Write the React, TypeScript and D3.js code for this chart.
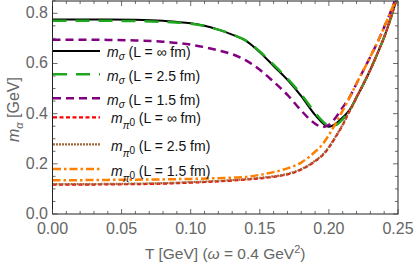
import * as d3 from "d3";

// temperature grids (GeV)
const tSigma = [0, 0.02, 0.04, 0.06, 0.08, 0.1, 0.11, 0.12, 0.13, 0.14, 0.15, 0.16, 0.17, 0.18, 0.19, 0.195, 0.2, 0.205, 0.21, 0.215, 0.22, 0.225, 0.23, 0.235, 0.24, 0.245, 0.25];
const tPion = [0, 0.02, 0.04, 0.06, 0.08, 0.1, 0.12, 0.14, 0.15, 0.16, 0.17, 0.18, 0.19, 0.195, 0.2, 0.205, 0.21, 0.215, 0.22, 0.225, 0.23, 0.235, 0.24, 0.245, 0.25];

// masses (GeV)
const sigmaInf = [0.775, 0.775, 0.775, 0.774, 0.77, 0.76, 0.75, 0.735, 0.715, 0.69, 0.645, 0.59, 0.535, 0.47, 0.395, 0.365, 0.348, 0.36, 0.385, 0.415, 0.465, 0.518, 0.575, 0.638, 0.705, 0.785, 0.875];
const sigma25 = [0.77, 0.77, 0.77, 0.769, 0.766, 0.758, 0.749, 0.735, 0.716, 0.691, 0.648, 0.595, 0.54, 0.477, 0.404, 0.372, 0.352, 0.355, 0.378, 0.412, 0.465, 0.518, 0.575, 0.638, 0.705, 0.785, 0.875];
const sigma15 = [0.695, 0.695, 0.694, 0.692, 0.687, 0.675, 0.665, 0.652, 0.637, 0.612, 0.575, 0.527, 0.475, 0.412, 0.36, 0.347, 0.355, 0.385, 0.425, 0.466, 0.52, 0.573, 0.627, 0.683, 0.745, 0.81, 0.885];
const pionInf = [0.117, 0.117, 0.118, 0.119, 0.121, 0.125, 0.13, 0.137, 0.142, 0.148, 0.158, 0.177, 0.21, 0.232, 0.265, 0.308, 0.355, 0.41, 0.465, 0.518, 0.575, 0.638, 0.705, 0.785, 0.875];
const pion25 = [0.119, 0.119, 0.12, 0.121, 0.123, 0.127, 0.132, 0.139, 0.144, 0.15, 0.16, 0.179, 0.212, 0.234, 0.267, 0.31, 0.357, 0.412, 0.466, 0.519, 0.576, 0.639, 0.706, 0.786, 0.876];
const pion15 = [0.135, 0.135, 0.136, 0.137, 0.138, 0.14, 0.143, 0.148, 0.156, 0.167, 0.182, 0.205, 0.248, 0.275, 0.315, 0.362, 0.412, 0.465, 0.52, 0.573, 0.627, 0.683, 0.745, 0.81, 0.885];

const xTicks = [0, 0.05, 0.1, 0.15, 0.2, 0.25];
const yTicks = [0, 0.2, 0.4, 0.6, 0.8];

const series = [
  { name: "σ", L: "∞", t: tSigma, m: sigmaInf, color: "#000000", dash: "", w: 2 },
  { name: "σ", L: "2.5", t: tSigma, m: sigma25, color: "#1fa81f", dash: "14,9", w: 2.5 },
  { name: "σ", L: "1.5", t: tSigma, m: sigma15, color: "#800080", dash: "8,5", w: 2.5 },
  { name: "π", L: "∞", t: tPion, m: pionInf, color: "#ff0000", dash: "4,2.5", w: 2.2 },
  { name: "π", L: "2.5", t: tPion, m: pion25, color: "#a0673a", dash: "2,1", w: 2.2 },
  { name: "π", L: "1.5", t: tPion, m: pion15, color: "#ff8000", dash: "8,3,2.5,3", w: 2.5 },
];

const W = 415;
const H = 265;
const left = 52.5, right = 398, top = 1, bottom = 214;

export default function App() {
  const x = d3.scaleLinear().domain([0, 0.25]).range([left, right]);
  const y = d3.scaleLinear().domain([0, 0.8]).range([bottom, 13.3]);
  const line = d3.line<[number, number]>()
    .x(d => x(d[0]))
    .y(d => y(d[1]))
    .curve(d3.curveMonotoneX);

  const xMinor = d3.range(0, 0.2501, 0.01);
  const yMinor = d3.range(0, 0.851, 0.05);
  const legendY = [51, 74.3, 98.3, 117.3, 144.3, 169];
  const textY = [56.5, 80.5, 105, 123, 151, 176];
  const gray = "#666";

  return (
    <svg width={W} height={H} style={{ position: "absolute", left: 0, top: 0 }} fontFamily="Liberation Sans, Arial, sans-serif">
      <defs>
        <clipPath id="plot">
          <rect x={left} y={top} width={right - left} height={bottom - top} />
        </clipPath>
      </defs>
      <rect width={W} height={H} fill="white" />

      {/* curves */}
      <g clipPath="url(#plot)">
        {series.map((s, i) => (
          <path
            key={i}
            d={line(s.t.map((t, j) => [t, s.m[j]] as [number, number])) || ""}
            fill="none"
            stroke={s.color}
            strokeWidth={s.w}
            strokeDasharray={s.dash || undefined}
          />
        ))}
      </g>

      {/* frame and ticks */}
      <rect x={left} y={top} width={right - left} height={bottom - top} fill="none" stroke="#222" strokeWidth={1} />
      {xMinor.map((v, i) => {
        const major = xTicks.some(t => Math.abs(t - v) < 1e-6);
        const len = major ? 5 : 3;
        return (
          <g key={"xm" + i} stroke="#444" strokeWidth={0.8}>
            <line x1={x(v)} x2={x(v)} y1={bottom} y2={bottom - len} />
            <line x1={x(v)} x2={x(v)} y1={top} y2={top + len} />
          </g>
        );
      })}
      {yMinor.map((v, i) => {
        const major = yTicks.some(t => Math.abs(t - v) < 1e-6);
        const len = major ? 5 : 3;
        return (
          <g key={"ym" + i} stroke="#444" strokeWidth={0.8}>
            <line x1={left} x2={left + len} y1={y(v)} y2={y(v)} />
            <line x1={right} x2={right - len} y1={y(v)} y2={y(v)} />
          </g>
        );
      })}

      {/* tick labels */}
      {xTicks.map(v => (
        <text key={"xl" + v} x={x(v)} y={233.5} textAnchor="middle" fontSize={16} fill={gray}>
          {v.toFixed(2)}
        </text>
      ))}
      {yTicks.map(v => (
        <text key={"yl" + v} x={48} y={y(v) + 5} textAnchor="end" fontSize={16} fill={gray}>
          {v.toFixed(1)}
        </text>
      ))}

      {/* axis labels */}
      <text x={(left + right) / 2} y={259} textAnchor="middle" fontSize={15.5} fill={gray}>
        T [GeV] (<tspan fontStyle="italic">ω</tspan> = 0.4 GeV<tspan dy={-6} fontSize={11}>2</tspan><tspan dy={6}>)</tspan>
      </text>
      <text transform={`translate(19,${(top + bottom) / 2 + 2}) rotate(-90)`} textAnchor="middle" fontSize={16} fill={gray}>
        <tspan fontStyle="italic">m</tspan><tspan fontStyle="italic" fontSize={11} dy={4}>α</tspan><tspan dy={-4}> [GeV]</tspan>
      </text>

      {/* legend */}
      {series.map((s, i) => (
        <g key={"lg" + i}>
          <line x1={53} x2={100} y1={legendY[i]} y2={legendY[i]} stroke={s.color} strokeWidth={s.w} strokeDasharray={s.dash || undefined} />
          {s.name === "σ" ? (
            <text x={107} y={textY[i]} fontSize={14} fill="#111">
              <tspan fontStyle="italic">m</tspan><tspan fontStyle="italic" fontSize={10} dy={3}>σ</tspan><tspan dy={-3}> (L = {s.L} fm)</tspan>
            </text>
          ) : (
            <text x={111} y={textY[i]} fontSize={14} fill="#111">
              <tspan fontStyle="italic">m</tspan><tspan fontStyle="italic" fontSize={10} dy={6}>π</tspan><tspan fontSize={10} dy={-3}>0</tspan><tspan dy={-3}> (L = {s.L} fm)</tspan>
            </text>
          )}
        </g>
      ))}
    </svg>
  );
}
